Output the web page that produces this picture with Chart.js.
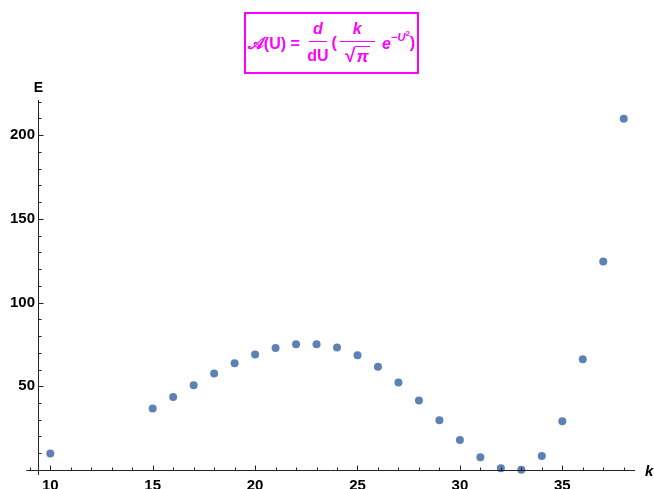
<!DOCTYPE html>
<html>
<head>
<meta charset="utf-8">
<script src="https://cdn.jsdelivr.net/npm/chart.js@4.4.0/dist/chart.umd.min.js"></script>
<style>
  html, body { margin:0; padding:0; background:#fff; }
  #wrap { position:relative; width:654px; height:489px; }
  #title {
    position:absolute; left:244px; top:12px; width:171px; height:58px;
    border:2px solid #ff00ff; color:#ff00ff; box-sizing:content-box;
    font: bold 16px "Liberation Sans", Arial, sans-serif;
    display:flex; align-items:center; justify-content:center; white-space:nowrap;
  }
  .frac { display:inline-flex; flex-direction:column; align-items:center; vertical-align:middle; margin:0 3px; }
  .frac .num { border-bottom:1.5px solid #ff00ff; padding:0 4px 3px 4px; line-height:18px; }
  .frac .den { padding-top:3px; line-height:21px; }
  .it { font-style:italic; }
  .sq { border-top:1.5px solid #ff00ff; padding:0 1px; font-size:17px; }
  .rad { font-size:19px; }
  sup { font-size:11px; vertical-align:8px; line-height:0; }
  sup sup { font-size:8px; vertical-align:5px; }
  .scr { font-family:"DejaVu Sans", serif; font-weight:bold; font-size:17px; }
</style>
</head>
<body>
<div id="wrap">
  <canvas id="c" width="654" height="489"></canvas>
  <div id="title">
    <span><span class="scr">𝒜</span>(U) =&nbsp;</span>
    <span class="frac"><span class="num it">d</span><span class="den">dU</span></span>
    <span>(</span>
    <span class="frac"><span class="num it">&nbsp;&nbsp;k&nbsp;&nbsp;</span><span class="den"><span class="rad">√</span><span class="sq it">π</span></span></span>
    <span>&nbsp;<span class="it">e</span><sup>−<span class="it">U</span><sup>2</sup></sup></span>
    <span>)</span>
  </div>
</div>
<script>
const kValues = [10, 15, 16, 17, 18, 19, 20, 21, 22, 23, 24, 25, 26, 27, 28, 29, 30, 31, 32, 33, 34, 35, 36, 37, 38];
const eValues = [9.8, 36.7, 43.6, 50.6, 57.6, 63.8, 69.0, 72.9, 75.1, 75.1, 73.2, 68.6, 61.6, 52.2, 41.5, 29.7, 17.9, 7.6, 1.0, 0.2, 8.4, 29.1, 66.2, 124.6, 209.8];
const xTickLabels = [10, 15, 20, 25, 30, 35];
const yTickLabels = [50, 100, 150, 200];
const xMinor = [9, 11, 12, 13, 14, 16, 17, 18, 19, 21, 22, 23, 24, 26, 27, 28, 29, 31, 32, 33, 34, 36, 37, 38];
const yMinor = [10, 20, 30, 40, 60, 70, 80, 90, 110, 120, 130, 140, 160, 170, 180, 190, 210, 220];
const xRange = [9.4, 38.55];
const yRange = [-3, 221];
const xAxisStart = 8.83;

const tickFont = { family: '"Liberation Sans", Arial, sans-serif', size: 15, weight: 'bold' };

const axesPlugin = {
  id: 'axesPlugin',
  afterDraw(chart) {
    const ctx = chart.ctx;
    const xs = chart.scales.x, ys = chart.scales.y;
    const y0 = Math.round(ys.getPixelForValue(0)) + 0.5;
    const x0 = Math.round(xs.getPixelForValue(xRange[0])) + 0.5;
    ctx.save();
    ctx.strokeStyle = '#222';
    ctx.lineWidth = 1;
    ctx.beginPath();
    ctx.moveTo(xs.getPixelForValue(xAxisStart), y0);
    ctx.lineTo(xs.getPixelForValue(xRange[1]), y0);
    ctx.moveTo(x0, ys.getPixelForValue(yRange[0]));
    ctx.lineTo(x0, ys.getPixelForValue(yRange[1]));
    xTickLabels.forEach(v => { const p = Math.round(xs.getPixelForValue(v)) + 0.5; ctx.moveTo(p, y0); ctx.lineTo(p, y0 - 5); });
    xMinor.forEach(v => { const p = Math.round(xs.getPixelForValue(v)) + 0.5; ctx.moveTo(p, y0); ctx.lineTo(p, y0 - 3); });
    yTickLabels.forEach(v => { const p = Math.round(ys.getPixelForValue(v)) + 0.5; ctx.moveTo(x0, p); ctx.lineTo(x0 + 5, p); });
    yMinor.forEach(v => { const p = Math.round(ys.getPixelForValue(v)) + 0.5; ctx.moveTo(x0, p); ctx.lineTo(x0 + 3, p); });
    ctx.stroke();
    ctx.fillStyle = '#000';
    ctx.textAlign = 'center';
    ctx.textBaseline = 'middle';
    ctx.font = 'bold 14px "Liberation Sans", Arial, sans-serif';
    ctx.fillText('E', x0, 88);
    ctx.font = 'italic bold 15px "Liberation Sans", Arial, sans-serif';
    ctx.textAlign = 'left';
    ctx.fillText('k', 645, y0 + 1);
    ctx.restore();
  }
};

new Chart(document.getElementById('c'), {
  type: 'scatter',
  data: {
    datasets: [{
      data: kValues.map((k, i) => ({ x: k, y: eValues[i] })),
      backgroundColor: '#5e81b5',
      borderColor: '#5e81b5',
      pointRadius: 4,
      pointHoverRadius: 4,
      borderWidth: 0
    }]
  },
  options: {
    responsive: false,
    animation: false,
    layout: { padding: { left: 0, right: 19, top: 100, bottom: 0 } },
    plugins: { legend: { display: false }, tooltip: { enabled: false }, title: { display: false } },
    scales: {
      x: {
        type: 'linear', min: xRange[0], max: xRange[1],
        grid: { display: false, drawTicks: false },
        border: { display: false },
        afterBuildTicks: s => { s.ticks = xTickLabels.map(v => ({ value: v })); },
        afterFit: s => { s.height = 14; },
        ticks: { color: '#000', font: tickFont, padding: 2, maxRotation: 0, autoSkip: false }
      },
      y: {
        type: 'linear', min: yRange[0], max: yRange[1],
        grid: { display: false, drawTicks: false },
        border: { display: false },
        afterBuildTicks: s => { s.ticks = yTickLabels.map(v => ({ value: v })); },
        afterFit: s => { s.width = 38; },
        ticks: { color: '#000', font: tickFont, padding: 3, autoSkip: false }
      }
    }
  },
  plugins: [axesPlugin]
});
</script>
</body>
</html>
